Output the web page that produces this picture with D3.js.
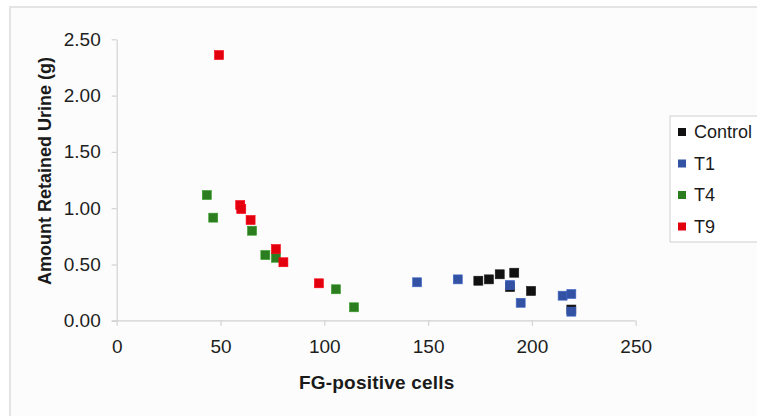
<!DOCTYPE html>
<html>
<head>
<meta charset="utf-8">
<script src="https://cdn.jsdelivr.net/npm/d3@7"></script>
<style>
  html, body { margin: 0; padding: 0; background: #fff; }
  svg { display: block; font-family: "Liberation Sans", Arial, sans-serif; }
  .axis path, .axis line { stroke: #d2d2d2; stroke-width: 1.2; }
  .axis text { fill: #1e1e1e; font-size: 19px; }
</style>
</head>
<body>
<svg id="chart" width="757" height="416"></svg>
<script>
// series
const seriesNames = ['Control', 'T1', 'T4', 'T9'];
const seriesColors = ['#111111', '#3352a3', '#2b7d1f', '#e2000f'];

const controlX = [174.2, 179.3, 184.5, 191.5, 199.6, 189.5, 219.0];
const controlY = [0.356, 0.368, 0.413, 0.427, 0.265, 0.30, 0.10];

const t1X = [144.7, 164.3, 189.5, 194.6, 214.8, 219.0, 219.0];
const t1Y = [0.342, 0.368, 0.318, 0.16, 0.223, 0.238, 0.081];

const t4X = [43.4, 46.5, 65.2, 71.6, 76.7, 105.6, 114.3];
const t4Y = [1.117, 0.916, 0.80, 0.584, 0.56, 0.28, 0.12];

const t9X = [49.3, 59.5, 60.0, 64.5, 76.7, 80.3, 97.4];
const t9Y = [2.36, 1.028, 0.993, 0.895, 0.637, 0.52, 0.333];

const xTicks = [0, 50, 100, 150, 200, 250];
const yTicks = [0, 0.5, 1.0, 1.5, 2.0, 2.5];

const allX = [controlX, t1X, t4X, t9X];
const allY = [controlY, t1Y, t4Y, t9Y];

const svg = d3.select('#chart');

// frame round the chart
svg.append('rect')
  .attr('x', 10).attr('y', 7)
  .attr('width', 800).attr('height', 450)
  .attr('fill', '#fcfcfc')
  .attr('stroke', '#dcdcdc')
  .attr('stroke-width', 1.5);

const xScale = d3.scaleLinear().domain([0, 250]).range([116.7, 635.7]);
const yScale = d3.scaleLinear().domain([0, 2.5]).range([320.8, 39.3]);

// x axis
const xAxis = d3.axisBottom(xScale)
  .tickValues(xTicks)
  .tickSize(5)
  .tickSizeOuter(0)
  .tickPadding(14)
  .tickFormat(d3.format('d'));
const gx = svg.append('g')
  .attr('class', 'axis x-axis')
  .attr('transform', 'translate(0,' + yScale(0) + ')')
  .call(xAxis);
gx.select('.domain').attr('d', 'M111.7,0H' + xScale(250));

// y axis
const yAxis = d3.axisLeft(yScale)
  .tickValues(yTicks)
  .tickSize(5)
  .tickSizeOuter(0)
  .tickPadding(11)
  .tickFormat(d3.format('.2f'));
svg.append('g')
  .attr('class', 'axis y-axis')
  .attr('transform', 'translate(' + xScale(0) + ',0)')
  .call(yAxis);

// axis titles
svg.append('text')
  .attr('x', 376.7)
  .attr('y', 389)
  .attr('text-anchor', 'middle')
  .attr('font-weight', 'bold')
  .attr('font-size', '19px')
  .attr('letter-spacing', '0.2px')
  .attr('fill', '#1a1a1a')
  .text('FG-positive cells');

svg.append('text')
  .attr('transform', 'translate(51,171) rotate(-90)')
  .attr('text-anchor', 'middle')
  .attr('font-weight', 'bold')
  .attr('font-size', '18px')
  .attr('fill', '#1a1a1a')
  .text('Amount Retained Urine (g)');

// points, later series on top
const size = 9;
seriesNames.forEach((name, i) => {
  const pts = allX[i].map((x, j) => ({ x: x, y: allY[i][j] }));
  svg.append('g')
    .attr('class', 'series ' + name)
    .selectAll('rect')
    .data(pts)
    .join('rect')
    .attr('x', d => xScale(d.x) - size / 2)
    .attr('y', d => yScale(d.y) - size / 2)
    .attr('width', size)
    .attr('height', size)
    .attr('fill', seriesColors[i])
    .attr('stroke', d3.color(seriesColors[i]).brighter(0.6))
    .attr('stroke-width', 0.6);
});

// legend
const legend = svg.append('g')
  .attr('class', 'legend')
  .attr('transform', 'translate(670,116)');
legend.append('rect')
  .attr('width', 100)
  .attr('height', 126)
  .attr('fill', '#fff')
  .attr('stroke', '#cfcfcf')
  .attr('stroke-width', 1);

const legendItems = legend.selectAll('.legend-item')
  .data(seriesNames)
  .join('g')
  .attr('class', 'legend-item')
  .attr('transform', (d, i) => `translate(0, ${16 + i * 31.5})`);

legendItems.append('rect')
  .attr('x', 8)
  .attr('y', -4)
  .attr('width', 8)
  .attr('height', 8)
  .attr('fill', (d, i) => seriesColors[i]);

legendItems.append('text')
  .attr('x', 24)
  .attr('dy', '0.35em')
  .attr('font-size', '18px')
  .attr('fill', '#1a1a1a')
  .text(d => d);
</script>
</body>
</html>
